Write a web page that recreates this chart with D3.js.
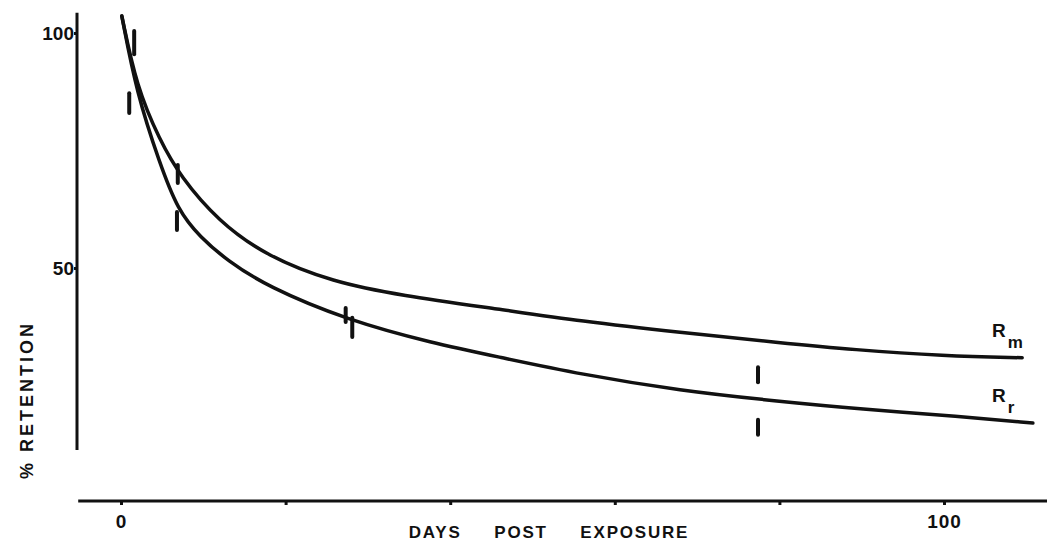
<!DOCTYPE html>
<html lang="en">
<head>
<meta charset="utf-8">
<script src="https://d3js.org/d3.v7.min.js"></script>
<style>
  body { margin: 0; background: #fff; }
  text { font-family: "Liberation Sans", Arial, Helvetica, sans-serif; font-weight: bold; fill: #111; }
</style>
</head>
<body>
<script>
// curve R_m (upper) : days vs % retention
var rmDays = [0.1, 1.9, 4.7, 7.2, 11.8, 17.7, 25.8, 33.9, 46.1, 55.8, 67.9, 80.1, 89, 100, 109.5];
var rmValues = [103.6, 88.5, 77.2, 69.5, 60.0, 52.5, 47.0, 44.2, 41.2, 38.7, 36.3, 34.1, 32.6, 31.3, 30.9];
// curve R_r (lower)
var rrDays = [0.1, 1.9, 4.7, 6.9, 9.6, 12.9, 17.7, 27.5, 37.9, 46.1, 55.8, 67.9, 80.1, 89.8, 101.9, 110.8];
var rrValues = [103.6, 87.2, 72.3, 62.3, 56.6, 51.6, 46.1, 38.9, 34.0, 31.0, 27.4, 23.9, 21.6, 20.0, 18.4, 17.0];
// measured points shown as short vertical bars
var barDays = [1.6, 1.0, 6.9, 6.8, 27.3, 28.1, 77.4, 77.4];
var barLow = [95.5, 83.0, 68.1, 58.1, 38.5, 35.3, 25.7, 14.5];
var barHigh = [100.4, 87.2, 71.9, 61.9, 41.5, 39.4, 28.9, 17.7];
// axis ticks
var xTicks = [0, 20, 40, 60, 80, 100];
var xTickLabels = ["0", "", "", "", "", "100"];
var yTicks = [50, 100];
var yTickLabels = ["50", "100"];

const W = 1047, H = 544;
const svg = d3.select("body").append("svg").attr("width", W).attr("height", H);

const x = d3.scaleLinear().domain([0, 100]).range([121, 944]);
const y = d3.scaleLinear().domain([50, 100]).range([268, 33]);

const xAxisY = 501, yAxisX = 77;

// x axis
const xAxis = d3.axisBottom(x).tickValues(xTicks)
  .tickFormat(function(d, i) { return xTickLabels[i]; })
  .tickSize(4).tickSizeOuter(0);
const gx = svg.append("g").attr("transform", "translate(0," + xAxisY + ")").call(xAxis);
gx.select(".domain").remove();
gx.selectAll(".tick line").attr("stroke", "#111").attr("stroke-width", 3);
gx.selectAll(".tick text").style("font-size", "19px").attr("dy", "1.05em").style("letter-spacing", "1px");
svg.append("line")
  .attr("x1", x(-5.2)).attr("x2", x(112.6))
  .attr("y1", xAxisY).attr("y2", xAxisY)
  .attr("stroke", "#111").attr("stroke-width", 3);

// y axis
const yAxis = d3.axisLeft(y).tickValues(yTicks)
  .tickFormat(function(d, i) { return yTickLabels[i]; })
  .tickSize(3).tickPadding(0).tickSizeOuter(0);
const gy = svg.append("g").attr("transform", "translate(" + yAxisX + ",0)").call(yAxis);
gy.select(".domain").remove();
gy.selectAll(".tick line").attr("stroke", "#111").attr("stroke-width", 3);
gy.selectAll(".tick text").style("font-size", "19px").style("letter-spacing", "0px");
svg.append("line")
  .attr("x1", yAxisX).attr("x2", yAxisX)
  .attr("y1", y(104.3)).attr("y2", y(11.3))
  .attr("stroke", "#111").attr("stroke-width", 3);

// axis titles
svg.append("text")
  .attr("x", 549).attr("y", 538)
  .attr("text-anchor", "middle")
  .style("font-size", "17px").style("letter-spacing", "1.8px")
  .attr("xml:space", "preserve")
  .text("DAYS     POST     EXPOSURE");

svg.append("text")
  .attr("transform", "translate(33,400) rotate(-90)")
  .attr("text-anchor", "middle")
  .style("font-size", "18px").style("letter-spacing", "3px")
  .text("% RETENTION");

// curves
const line = d3.line()
  .x(function(d) { return x(d[0]); })
  .y(function(d) { return y(d[1]); })
  .curve(d3.curveBasis);

svg.append("path")
  .datum(d3.zip(rmDays, rmValues))
  .attr("d", line)
  .attr("fill", "none").attr("stroke", "#111")
  .attr("stroke-width", 3.5).attr("stroke-linecap", "round");

svg.append("path")
  .datum(d3.zip(rrDays, rrValues))
  .attr("d", line)
  .attr("fill", "none").attr("stroke", "#111")
  .attr("stroke-width", 3.5).attr("stroke-linecap", "round");

// bars
svg.selectAll(".bar")
  .data(d3.range(barDays.length))
  .enter().append("line")
  .attr("class", "bar")
  .attr("x1", function(i) { return x(barDays[i]); })
  .attr("x2", function(i) { return x(barDays[i]); })
  .attr("y1", function(i) { return y(barHigh[i]); })
  .attr("y2", function(i) { return y(barLow[i]); })
  .attr("stroke", "#111").attr("stroke-width", 4).attr("stroke-linecap", "round");

// curve labels
function curveLabel(px, py, sub) {
  const t = svg.append("text").attr("x", px).attr("y", py).style("font-size", "19px");
  t.append("tspan").text("R");
  t.append("tspan").attr("dx", 2).attr("dy", 11).style("font-size", "17px").text(sub);
}
curveLabel(992, 337, "m");
curveLabel(992, 402, "r");
</script>
</body>
</html>
